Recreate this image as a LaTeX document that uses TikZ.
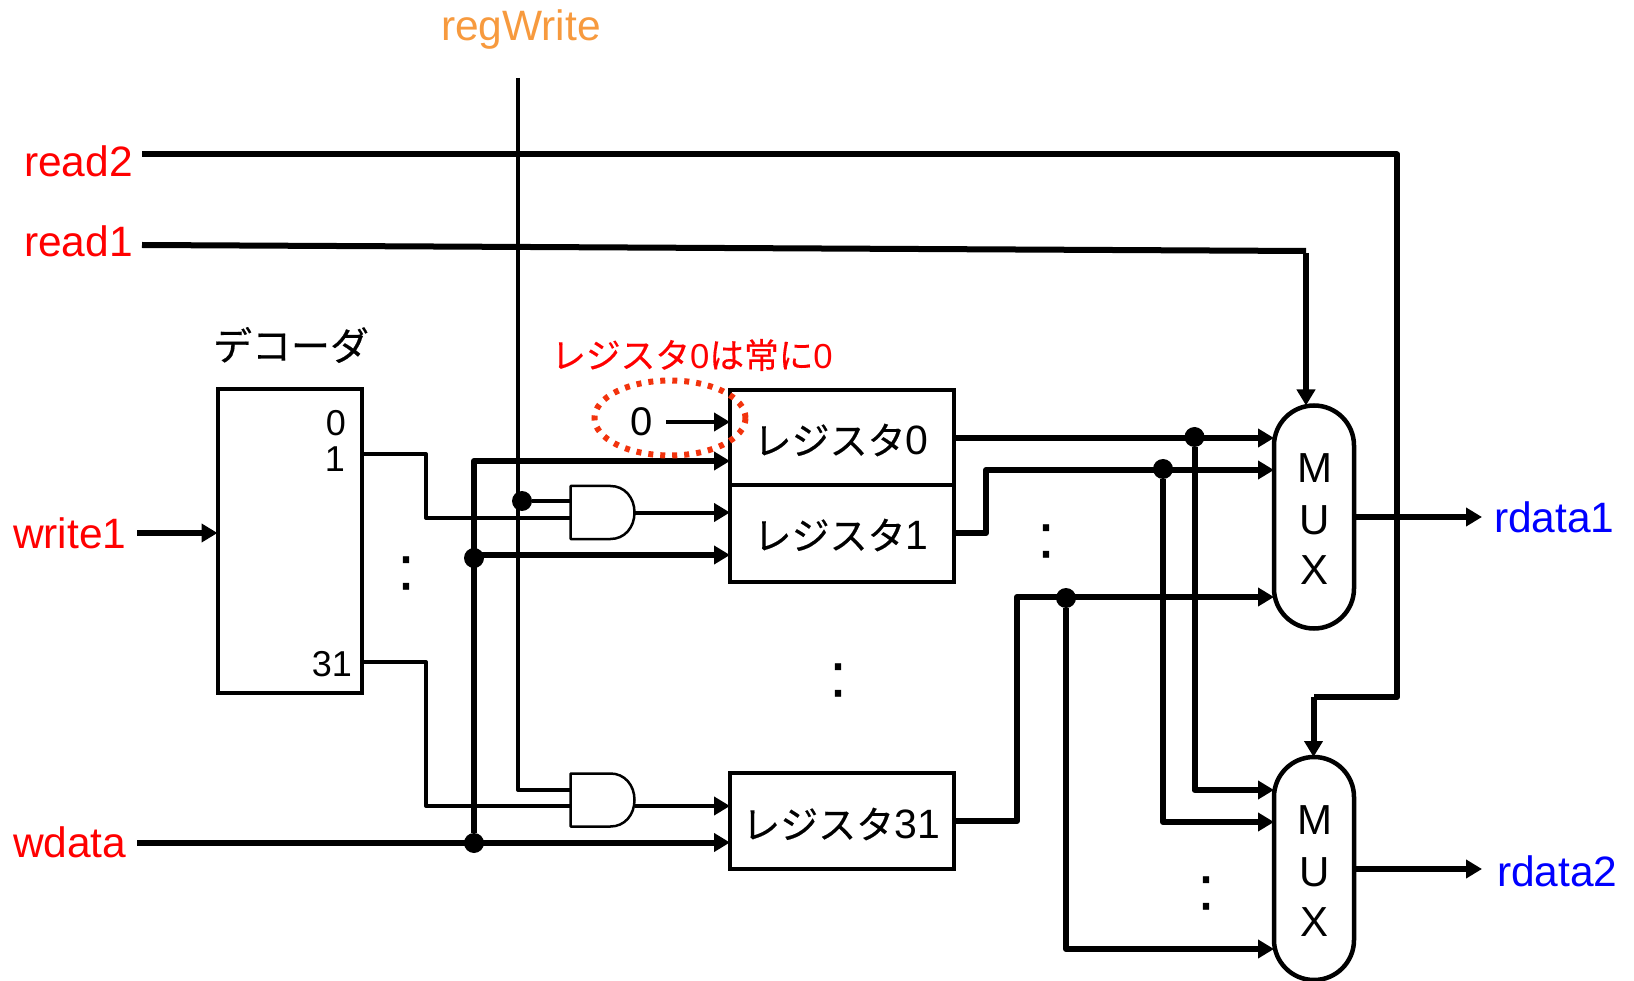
\documentclass[tikz,border=0pt]{standalone}
\usepackage{fontspec}
\setmainfont{Liberation Sans}
\newfontfamily\cjk[FakeBold=0.35]{Noto Sans CJK JP}
\newfontfamily\colonfont[FakeBold=0.6]{Liberation Sans}
\usetikzlibrary{arrows.meta,shapes.geometric}
\newcommand{\ja}[1]{{\cjk #1}}
\newcommand{\fsz}[1]{\fontsize{#1}{#1}\selectfont}
\definecolor{regorange}{HTML}{F79A3E}
\definecolor{noteorange}{HTML}{F2330D}
\tikzset{
  every node/.style={inner sep=0pt,outer sep=0pt},
  thinw/.style={line width=4pt,line join=round},
  thickw/.style={line width=6pt,line join=round},
  head/.style={-{Triangle[length=16pt,width=18pt]}},
  blk/.style={draw=black,line width=4pt,rectangle,fill=white},
  muxbox/.style={draw=black,line width=4.5pt,rectangle,rounded corners=40pt,minimum width=80pt,minimum height=223pt},
  junct/.style={circle,fill=black,minimum size=20pt},
  gatebox/.style={rectangle,minimum width=64pt,minimum height=53pt},
  gateline/.style={line width=2.5pt,line join=round},
  sig/.style={anchor=base west,font=\fsz{42.5}},
  txt/.style={anchor=center,font=\fsz{38}},
  vdots/.style={anchor=center,font=\colonfont\fsz{62}},
}
\newcommand{\andshape}[1]{%
  \draw[gateline] (#1.north west) -- ++(40,0)
    .. controls +(14,0) and +(0,-15) .. (#1.east)
    .. controls +(0,15) and +(14,0) .. ([xshift=-24pt]#1.south east)
    -- (#1.south west) -- cycle;}
\begin{document}
\begin{tikzpicture}[x=1pt,y=-1pt]
\useasboundingbox (0,0) rectangle (1634,981);

% blocks
\node[blk,minimum width=144pt,minimum height=304pt] (dec) at (289.5,541) {};
\node[blk,minimum width=224pt,minimum height=95pt] (reg0) at (842,437.5) {};
\node[blk,minimum width=224pt,minimum height=97pt] (reg1) at (842,533.5) {};
\node[blk,minimum width=224pt,minimum height=96pt] (reg31) at (842,821) {};
\node[muxbox] (mux1) at (1314,517) {};
\node[muxbox] (mux2) at (1314,868.5) {};
\node[gatebox] (and1) at (602.5,512.5) {};
\node[gatebox] (and2) at (602.5,800) {};
\andshape{and1}
\andshape{and2}

% texts
\node[sig,text=regorange] (lreg) at (441,41) {regWrite};
\node[sig,text=red] (lread2) at (24,176.5) {read2};
\node[sig,text=red] (lread1) at (24,257) {read1};
\node[sig,text=red] (lwrite) at (13,548.5) {write1};
\node[sig,text=red] (lwdata) at (13,857) {wdata};
\node[sig,text=blue] (lrd1) at (1494,532) {rdata1};
\node[sig,text=blue] (lrd2) at (1497,886) {rdata2};
\node[anchor=center,font=\fsz{39}] (ldec) at (291,345) {\ja{デコーダ}};
\node[anchor=center,font=\fsz{34.7},text=red] (lnote) at (692,355) {\ja{レジスタ}0\ja{は常に}0};
\node[anchor=center,font=\fsz{36}] (d0) at (336,423) {0};
\node[anchor=center,font=\fsz{36}] (d1) at (335,459) {1};
\node[anchor=center,font=\fsz{36}] (d31) at (332,664) {31};
\node[anchor=center,font=\fsz{40}] (zero) at (642,422) {0};
\node[txt] (t0) at (841,440) {\ja{レジスタ}\fsz{41}0};
\node[txt] (t1) at (841,535) {\ja{レジスタ}\fsz{41}1};
\node[txt] (t31) at (841,824) {\ja{レジスタ}\fsz{41}31};
\foreach \n/\y/\c in {a/468/M,b/520/U,c/570/X}{\node[anchor=center,font=\fsz{42}] (m1\n) at (1314.5,\y) {\c};}
\foreach \n/\y/\c in {a/820/M,b/872/U,c/922/X}{\node[anchor=center,font=\fsz{42}] (m2\n) at (1314.5,\y) {\c};}
\node[vdots] (c1) at (406,573) {:};
\node[vdots] (c2) at (1046,541) {:};
\node[vdots] (c3) at (838,680) {:};
\node[vdots] (c4) at (1206,893) {:};

% junctions
\node[junct] (jw) at (522,501) {};
\node[junct] (jb1) at (474,558) {};
\node[junct] (jb2) at (474,843) {};
\node[junct] (jr0) at (1194.5,437) {};
\node[junct] (jr1) at (1163,469) {};
\node[junct] (jr31) at (1066,598) {};

% free ends
\coordinate (sread2) at (142,154.5);
\coordinate (sread1) at (142,245);
\coordinate (ereadA) at (1306,251);
\coordinate (swrite) at (137,533);
\coordinate (swdata) at (137,842.5);
\coordinate (sreg) at (518,78);
\coordinate (szero) at (666,422);

% control wires
\draw[thinw] (sreg) -- (518,790) -- (and2.west |- 0,790);
\draw[thinw] (jw) -- (and1.west |- jw);
\draw[thinw] (dec.east |- 0,454) -- (426,454) -- (426,518) -- (and1.west |- 0,518);
\draw[thinw] (dec.east |- 0,662) -- (426,662) -- (426,806) -- (and2.west |- 0,806);
\draw[thinw,head] (and1.east) -- (reg1.west |- and1.east);
\draw[thinw,head] (and2.east |- 0,806) -- (reg31.west |- 0,806);
\draw[thinw,head] (szero) -- (reg0.west |- szero);

% data bus
\draw[thickw,head] (swdata) -- (swdata -| jb2) -- (reg31.west |- swdata);
\draw[thickw,head] (jb2) -- (474,461) -- (reg0.west |- 0,461);
\draw[thickw,head] (jb1.center |- 0,555) -- (reg1.west |- 0,555);

% select lines
\draw[thickw] (sread2) -- (1397,154.5) -- (1397,697) -- (1313.5,697) coordinate (bend2);
\draw[thickw,head] (bend2) -- (bend2 |- mux2.north);
\draw[thickw] (sread1) -- (ereadA);
\draw[thickw,head] ([yshift=-2pt]ereadA) -- (ereadA |- mux1.north);
\draw[thickw,head] (swrite) -- (dec.west |- swrite);

% register outputs
\draw[thickw,head] (reg0.east |- 0,438) -- (jr0.center |- 0,438) -- (mux1.west |- 0,438);
\draw[thickw,head] (reg1.east |- 0,533) -- (986,533) -- (986,470) -- (mux1.west |- 0,470);
\draw[thickw,head] (reg31.east |- 0,821) -- (1017,821) -- (1017,597) -- (mux1.west |- 0,597);
\draw[thickw,head] (jr0) -- (1194.5,790) -- (mux2.west |- 0,790);
\draw[thickw,head] (jr1) -- (1163,822) -- (mux2.west |- 0,822);
\draw[thickw,head] (jr31) -- (1066,949) -- (mux2.west |- 0,949);
\draw[thickw,head] (mux1.east |- 0,517) -- (1482,517);
\draw[thickw,head] (mux2.east |- 0,869) -- (1482,869);

% highlight
\node[draw=noteorange,line width=6pt,ellipse,dash pattern=on 5pt off 7pt,minimum width=151pt,minimum height=75pt] (hl) at (670,418) {};
\end{tikzpicture}
\end{document}
